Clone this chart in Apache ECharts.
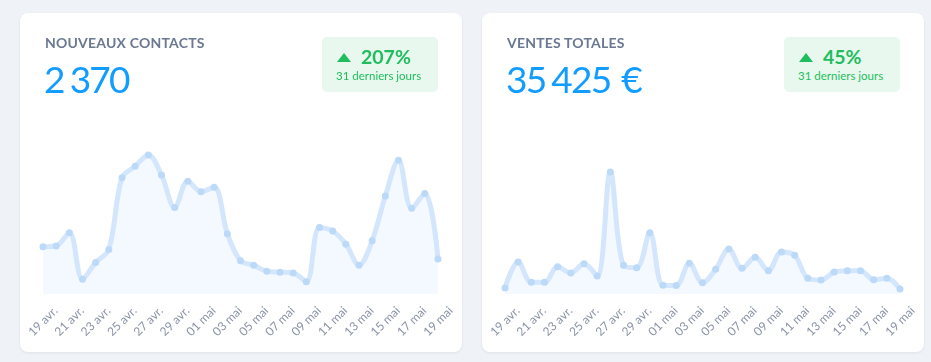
<!DOCTYPE html>
<html>
<head>
<meta charset="utf-8">
<script src="https://cdn.jsdelivr.net/npm/echarts@6/dist/echarts.min.js"></script>
<style>
  html, body { margin: 0; padding: 0; background: #eff2f7; width: 931px; height: 362px; overflow: hidden; font-family: "Lato", "Noto Sans", sans-serif; }
  .card { position: absolute; top: 13px; width: 442px; height: 339px; background: #fff; border-radius: 8px; box-shadow: 0 1px 3px rgba(30,50,90,0.08); }
  .chart { position: absolute; left: 0; top: 0; width: 442px; height: 339px; }
  .title { position: absolute; left: 25px; top: 21px; font-size: 14px; font-weight: 700; color: #6a7891; letter-spacing: 0.2px; }
  .value { position: absolute; left: 24px; top: 43px; font-size: 37px; font-weight: 400; color: #119cff; letter-spacing: -1.8px; white-space: nowrap; }
  .value .gap { display: inline-block; width: 6px; }
  .badge { position: absolute; right: 24px; top: 24px; width: 116px; height: 55px; background: #e8f8ee; border-radius: 5px; color: #1fbd5e; }
  .badge .pct { position: absolute; left: 15px; top: 8px; font-size: 19.5px; font-weight: 700; white-space: nowrap; }
  .badge .tri { display: inline-block; width: 0; height: 0; border-left: 7px solid transparent; border-right: 7px solid transparent; border-bottom: 9px solid #1fbd5e; margin-right: 10px; vertical-align: 2px; }
  .badge .sub { position: absolute; left: 14px; top: 32px; font-size: 11.5px; white-space: nowrap; }
</style>
</head>
<body>
<div class="card" style="left:20px;">
  <div class="chart" id="c1"></div>
  <div class="title">NOUVEAUX CONTACTS</div>
  <div class="value">2<span class="gap"></span>370</div>
  <div class="badge"><div class="pct"><span class="tri"></span>207%</div><div class="sub">31 derniers jours</div></div>
</div>
<div class="card" style="left:482px;">
  <div class="chart" id="c2"></div>
  <div class="title">VENTES TOTALES</div>
  <div class="value">35<span class="gap"></span>425<span class="gap" style="width:11px"></span>€</div>
  <div class="badge"><div class="pct"><span class="tri"></span>45%</div><div class="sub">31 derniers jours</div></div>
</div>
<script>
const days = ["19 avr.","20 avr.","21 avr.","22 avr.","23 avr.","24 avr.","25 avr.","26 avr.","27 avr.","28 avr.","29 avr.","30 avr.",
  "01 mai","02 mai","03 mai","04 mai","05 mai","06 mai","07 mai","08 mai","09 mai","10 mai","11 mai","12 mai","13 mai","14 mai","15 mai","16 mai","17 mai","18 mai","19 mai"];
const contacts = [54,55,70,17,36,51,133,146,159,136,99,129,117,122,69,38,33,26,25,24,14,76,72,57,33,61,112,153,98,115,40];
const ventes = [260,1370,500,500,1170,900,1300,770,5230,1230,1130,2630,370,360,1320,480,1060,1930,1100,1570,1000,1800,1660,670,600,940,1000,1000,610,670,210];
const contactsMax = 160;
const ventesMax = 6000;

function makeOption(data, max) {
  return {
    animation: false,
    grid: { left: 23, right: 24, top: 141, bottom: 58 },
    xAxis: {
      type: 'category', boundaryGap: false, data: days,
      axisLine: { show: false }, axisTick: { show: false },
      axisLabel: { interval: 1, rotate: 45, color: '#8a93a6', fontSize: 12, fontFamily: 'Lato', margin: 2, verticalAlign: 'top', padding: [12, 0, 0, 0] }
    },
    yAxis: { type: 'value', min: 0, max: max, show: false, splitLine: { show: false } },
    series: [{
      type: 'line', data: data, smooth: 0.35,
      symbol: 'circle', symbolSize: 7,
      itemStyle: { color: '#bcdaf8' },
      lineStyle: { color: '#d3e6fc', width: 5 },
      areaStyle: { color: '#f4f8ff', opacity: 1 }
    }]
  };
}
echarts.init(document.getElementById('c1')).setOption(makeOption(contacts, contactsMax));
echarts.init(document.getElementById('c2')).setOption(makeOption(ventes, ventesMax));
</script>
</body>
</html>
